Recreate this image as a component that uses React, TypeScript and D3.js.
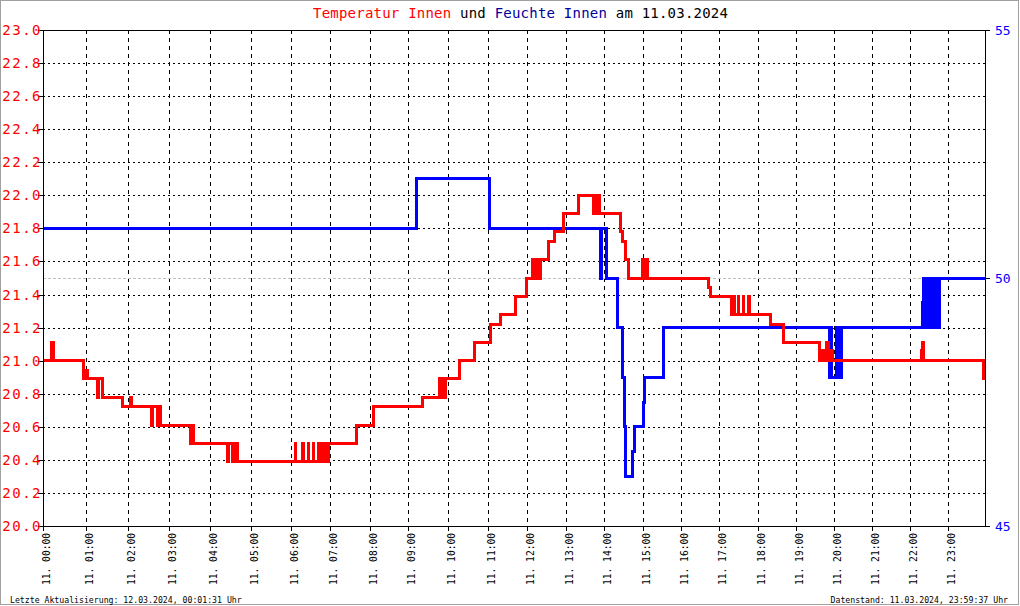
import React from "react";
import * as d3 from "d3";

const W = 1020;
const H = 606;

// number of stored records per hour (x axis is record based)
const recordsPerHour = [65, 62, 62, 62, 61, 61, 58, 60, 58, 59, 60, 59, 58, 57, 60, 57, 57, 58, 57, 57, 58, 57, 56, 56];

const hourLabels = [
  "11. 00:00", "11. 01:00", "11. 02:00", "11. 03:00", "11. 04:00", "11. 05:00",
  "11. 06:00", "11. 07:00", "11. 08:00", "11. 09:00", "11. 10:00", "11. 11:00",
  "11. 12:00", "11. 13:00", "11. 14:00", "11. 15:00", "11. 16:00", "11. 17:00",
  "11. 18:00", "11. 19:00", "11. 20:00", "11. 21:00", "11. 22:00", "11. 23:00",
];

const tempTicks = [20.0, 20.2, 20.4, 20.6, 20.8, 21.0, 21.2, 21.4, 21.6, 21.8, 22.0, 22.2, 22.4, 22.6, 22.8, 23.0];
const humTicks = [45, 50, 55];

const tempTimes = [
  "00:00", "00:12", "00:14", "00:56", "00:58", "01:02", "01:17", "01:18", "01:24",
  "01:53", "02:04", "02:06", "02:35", "02:36", "02:44", "02:46", "02:48", "03:32", "03:34", "03:36",
  "04:26", "04:27", "04:33", "04:34", "04:36", "04:37", "04:40",
  "06:06", "06:07", "06:18", "06:19", "06:26", "06:27", "06:34", "06:35", "06:42", "06:43",
  "06:47", "06:48", "06:50", "06:51", "06:55", "06:56", "06:58",
  "07:40", "08:05", "09:21", "09:48", "09:49", "09:53", "09:54", "09:57", "10:18", "10:40",
  "11:05", "11:20", "11:42", "12:00", "12:08", "12:10", "12:15", "12:16", "12:18", "12:19", "12:21",
  "12:33", "12:43", "12:57", "13:20", "13:44", "13:46", "13:51", "13:52", "13:54",
  "14:25", "14:29", "14:33", "14:38", "14:58", "15:01", "15:02", "15:06",
  "16:43", "16:46", "17:19", "17:20", "17:23", "17:29", "17:30", "17:37", "17:38", "17:46", "17:47",
  "18:20", "18:40", "19:38", "19:41", "19:45", "19:48", "19:52", "19:55", "19:58",
  "22:17", "22:19", "22:21", "23:57", "23:59:37",
];
const tempValues = [
  21.0, 21.11, 21.0, 20.89, 20.94, 20.89, 20.78, 20.89, 20.78,
  20.72, 20.78, 20.72, 20.61, 20.72, 20.61, 20.72, 20.61, 20.5, 20.61, 20.5,
  20.39, 20.5, 20.39, 20.5, 20.39, 20.5, 20.39,
  20.5, 20.39, 20.5, 20.39, 20.5, 20.39, 20.5, 20.39, 20.5, 20.39,
  20.5, 20.39, 20.5, 20.39, 20.5, 20.39, 20.5,
  20.61, 20.72, 20.78, 20.89, 20.78, 20.89, 20.78, 20.89, 21.0, 21.11,
  21.22, 21.28, 21.39, 21.5, 21.61, 21.5, 21.61, 21.5, 21.61, 21.5, 21.61,
  21.72, 21.78, 21.89, 22.0, 21.89, 22.0, 21.89, 22.0, 21.89,
  21.78, 21.72, 21.61, 21.5, 21.61, 21.5, 21.61, 21.5,
  21.44, 21.39, 21.28, 21.39, 21.28, 21.39, 21.28, 21.39, 21.28, 21.39, 21.28,
  21.22, 21.11, 21.0, 21.06, 21.0, 21.11, 21.0, 21.06, 21.0,
  21.06, 21.11, 21.0, 20.89, 20.89,
];

const humTimes = [
  "00:00", "09:12", "11:02", "13:55", "13:57", "14:04", "14:21", "14:29", "14:31", "14:33",
  "14:44", "14:46", "15:00", "15:02", "15:32",
  "19:53", "19:55", "19:56", "20:04", "20:06", "20:08", "20:10", "20:12",
  "22:19", "22:21", "22:22", "22:23", "22:25", "22:27", "22:29", "22:31", "22:33", "22:35", "22:37",
  "22:39", "22:41", "22:43", "22:45", "22:46", "23:59:37",
];
const humValues = [
  51, 52, 51, 50, 51, 50, 49, 48, 47, 46,
  46.5, 47, 47.5, 48, 49,
  48, 49, 48, 49, 48, 49, 48, 49,
  49.5, 50, 49, 50, 49, 50, 49, 50, 49, 50, 49,
  50, 49, 50, 49, 50, 50,
];

const parseTime = (s: string) => {
  const p = s.split(":").map(Number);
  return p[0] + p[1] / 60 + (p[2] || 0) / 3600;
};

const MONO = "'DejaVu Sans Mono', 'Liberation Mono', monospace";

export default function App() {
  const left = 43;
  const right = 985;
  const top = 30;
  const bottom = 526;

  const cum: number[] = [0];
  recordsPerHour.forEach((c) => cum.push(cum[cum.length - 1] + c));
  const hourToRecord = d3.scaleLinear().domain(d3.range(25)).range(cum);
  const x = d3.scaleLinear().domain([0, cum[24]]).range([left, right]);
  const yT = d3.scaleLinear().domain([20, 23]).range([bottom, top]);
  const yH = d3.scaleLinear().domain([45, 55]).range([bottom, top]);
  const xh = (h: number) => x(hourToRecord(h));

  const tempData: [number, number][] = tempTimes.map((t, i) => [parseTime(t), tempValues[i]]);
  const humData: [number, number][] = humTimes.map((t, i) => [parseTime(t), humValues[i]]);

  const tempLine = d3
    .line<[number, number]>()
    .x((d) => xh(d[0]))
    .y((d) => yT(d[1]))
    .curve(d3.curveStepAfter);
  const humLine = d3
    .line<[number, number]>()
    .x((d) => xh(d[0]))
    .y((d) => yH(d[1]))
    .curve(d3.curveStepAfter);

  const cr = (v: number) => Math.round(v) + 0.5;
  const hours = d3.range(24);

  return (
    <svg
      width={W}
      height={H}
      style={{ position: "absolute", left: 0, top: 0, background: "#fff" }}
    >
      <rect x={0} y={0} width={W} height={H} fill="#fff" />
      <rect x={0.5} y={0.5} width={W - 2} height={H - 2} fill="none" stroke="#a0a0a0" />

      {/* title */}
      <text x={313} y={18} fontFamily={MONO} fontSize={14} letterSpacing={0.22}>
        <tspan fill="#ff0000">Temperatur Innen</tspan>
        <tspan fill="#000"> und </tspan>
        <tspan fill="#00009c">Feuchte Innen</tspan>
        <tspan fill="#000"> am 11.03.2024</tspan>
      </text>

      {/* horizontal grid */}
      {tempTicks.slice(1, -1).map((v) => (
        <line
          key={"hg" + v}
          x1={left}
          x2={right}
          y1={cr(yT(v))}
          y2={cr(yT(v))}
          stroke="#000"
          strokeDasharray="2,3"
          shapeRendering="crispEdges"
        />
      ))}
      {/* vertical grid */}
      {hours.slice(1).map((h) => (
        <line
          key={"vg" + h}
          x1={cr(xh(h))}
          x2={cr(xh(h))}
          y1={top}
          y2={bottom}
          stroke="#000"
          strokeDasharray="4,4"
          shapeRendering="crispEdges"
        />
      ))}
      {/* humidity 50 grid */}
      <line
        x1={left}
        x2={right}
        y1={cr(yH(50))}
        y2={cr(yH(50))}
        stroke="#c0c0c0"
        strokeDasharray="3,2"
        shapeRendering="crispEdges"
      />

      {/* data */}
      <path d={humLine(humData) || ""} fill="none" stroke="#0000ff" strokeWidth={3} shapeRendering="crispEdges" />
      <path d={tempLine(tempData) || ""} fill="none" stroke="#ff0000" strokeWidth={3} shapeRendering="crispEdges" />

      {/* frame */}
      <g stroke="#000" shapeRendering="crispEdges">
        <line x1={left - 5} x2={right + 5} y1={cr(top)} y2={cr(top)} />
        <line x1={left - 5} x2={right + 5} y1={cr(bottom)} y2={cr(bottom)} />
        <line x1={cr(left)} x2={cr(left)} y1={top} y2={bottom} />
        <line x1={cr(right)} x2={cr(right)} y1={top} y2={bottom} />
        {tempTicks.map((v) => (
          <line key={"lt" + v} x1={left - 5} x2={left} y1={cr(yT(v))} y2={cr(yT(v))} />
        ))}
        {humTicks.map((v) => (
          <line key={"rt" + v} x1={right} x2={right + 5} y1={cr(yH(v))} y2={cr(yH(v))} />
        ))}
        {hours.map((h) => (
          <line key={"bt" + h} x1={cr(xh(h))} x2={cr(xh(h))} y1={bottom} y2={bottom + 5} />
        ))}
      </g>

      {/* left labels */}
      {tempTicks.map((v) => (
        <text
          key={"ll" + v}
          x={42}
          y={yT(v) + 5}
          textAnchor="end"
          fontFamily={MONO}
          fontSize={14}
          letterSpacing={1.5}
          fill="#ff0000"
        >
          {v.toFixed(1)}
        </text>
      ))}
      {/* right labels */}
      {humTicks.map((v) => (
        <text key={"rl" + v} x={995} y={yH(v) + 5} fontFamily={MONO} fontSize={13} fill="#0000ff">
          {v}
        </text>
      ))}
      {/* x labels */}
      {hours.map((h) => {
        const px = xh(h) + 7;
        return (
          <text
            key={"xl" + h}
            transform={`translate(${px},533) rotate(-90)`}
            textAnchor="end"
            fontFamily={MONO}
            fontSize={9.6}
            fill="#000"
          >
            {hourLabels[h]}
          </text>
        );
      })}

      {/* footer */}
      <text x={10} y={603} fontFamily={MONO} fontSize={8.2} fill="#000">
        Letzte Aktualisierung: 12.03.2024, 00:01:31 Uhr
      </text>
      <text x={1008} y={603} textAnchor="end" fontFamily={MONO} fontSize={8.2} fill="#000">
        Datenstand: 11.03.2024, 23:59:37 Uhr
      </text>
    </svg>
  );
}
